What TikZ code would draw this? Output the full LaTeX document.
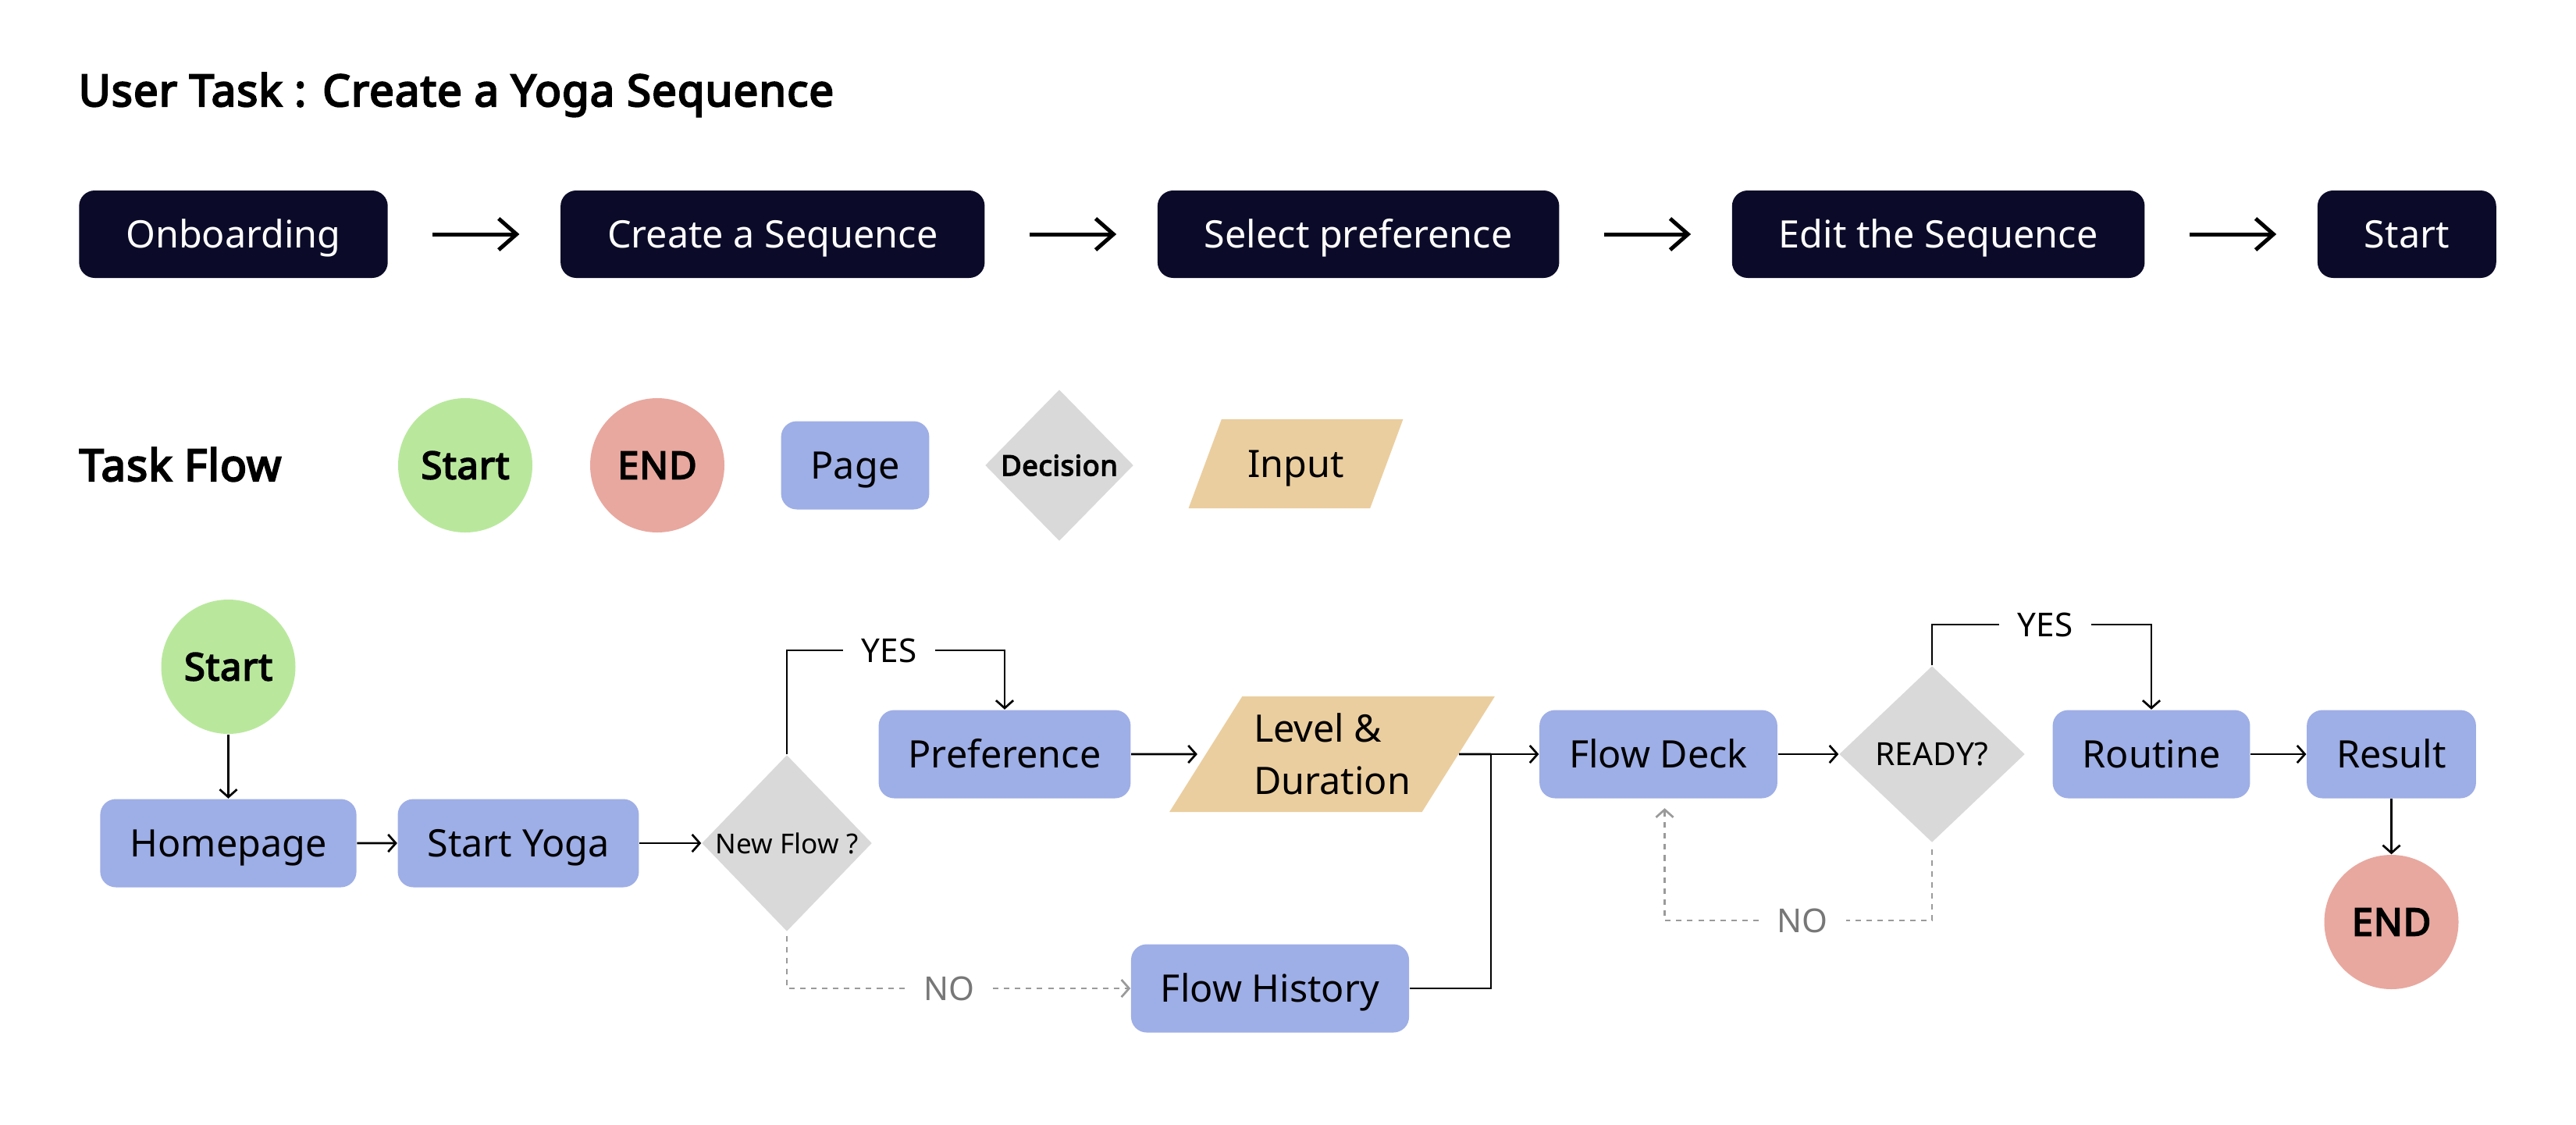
\documentclass[tikz,border=0pt]{standalone}
\usepackage{fontspec}
\setmainfont{Noto Sans}[BoldFont={Noto Sans}, BoldFeatures={FakeBold=4, LetterSpace=2}]
\usetikzlibrary{positioning,shapes.geometric,arrows.meta}

\definecolor{navy}{HTML}{0B0B29}
\definecolor{pageblue}{HTML}{9EAEE6}
\definecolor{startgreen}{HTML}{B9E89D}
\definecolor{endpink}{HTML}{E8A89F}
\definecolor{decgrey}{HTML}{D9D9D9}
\definecolor{inputtan}{HTML}{EBCE9F}
\definecolor{nogrey}{HTML}{777777}
\definecolor{dashgrey}{HTML}{9A9A9A}

\newcommand{\headfont}{\bfseries\fontsize{16}{19}\selectfont}
\newcommand{\boxfont}{\fontsize{13.8}{19}\selectfont}

\tikzset{
	taskbox/.style={rectangle, rounded corners=0.2cm, fill=navy, text=white,
		minimum height=1.12cm, inner xsep=0.6cm, text height=10pt, text depth=0pt, font=\boxfont},
	pagebox/.style={rectangle, rounded corners=0.2cm, fill=pageblue,
		minimum height=1.13cm, inner xsep=0.38cm, text height=10pt, text depth=0pt, font=\boxfont},
	startnode/.style={circle, fill=startgreen, minimum size=1.72cm, inner sep=0,
		font=\bfseries\boxfont},
	stopnode/.style={circle, fill=endpink, minimum size=1.72cm, inner sep=0,
		font=\bfseries\boxfont},
	decisionbox/.style={diamond, fill=decgrey, inner sep=0},
	inputbox/.style={trapezium, trapezium left angle=52, trapezium right angle=128,
		trapezium stretches=true, fill=inputtan, inner sep=0, font=\boxfont},
	branch/.style={inner xsep=0.23cm, inner ysep=0, font=\fontsize{12}{14}\selectfont},
	taskarrow/.style={-{Straight Barb[length=6.5pt,width=11.4pt]}, line width=1.42pt,
		shorten <=0.57cm, shorten >=0.52cm},
	flow/.style={-{Straight Barb[length=2.8pt,width=6.3pt]}, line width=0.77pt},
	noline/.style={dashgrey, line width=0.77pt, dash pattern=on 2pt off 2pt}
}

\begin{document}
\begin{tikzpicture}
	\useasboundingbox (0,0) rectangle (33,-14.4);

	% user task
	\node(title) [anchor=base west, inner sep=0, font=\headfont] at (1.0,-1.36) {User Task : Create a Yoga Sequence};
	\node(onboard) [taskbox] at (2.99,-3.0) {Onboarding};
	\node(createseq) [taskbox, right=2.2cm of onboard] {Create a Sequence};
	\node(selpref) [taskbox, right=2.2cm of createseq] {Select preference};
	\node(editseq) [taskbox, right=2.2cm of selpref] {Edit the Sequence};
	\node(gostart) [taskbox, right=2.2cm of editseq] {Start};

	\draw[taskarrow] (onboard) -- (createseq);
	\draw[taskarrow] (createseq) -- (selpref);
	\draw[taskarrow] (selpref) -- (editseq);
	\draw[taskarrow] (editseq) -- (gostart);

	% legend
	\node(flowtitle) [anchor=base west, inner sep=0, font=\headfont] at (1.01,-6.16) {Task Flow};
	\node(keystart) [startnode] at (5.96,-5.96) {Start};
	\node(keyend) [stopnode] at (8.42,-5.96) {END};
	\node(keypage) [pagebox] at (10.955,-5.96) {Page};
	\node(keydec) [decisionbox, minimum width=1.9cm, minimum height=1.94cm,
		font=\bfseries\fontsize{10.3}{12}\selectfont] at (13.57,-5.96) {Decision};
	\node(keyinput) [inputbox, minimum width=2.76cm, minimum height=1.14cm,
		text height=10pt, text depth=0pt] at (16.60,-5.94) {Input};

	% flow
	\node(start) [startnode] at (2.925,-8.54) {Start};
	\node(home) [pagebox, below of=start, node distance=2.26cm] {Homepage};
	\node(yoga) [pagebox] at (6.64,-10.80) {Start Yoga};
	\node(newflow) [decisionbox, minimum width=2.18cm, minimum height=2.26cm,
		font=\fontsize{10}{12}\selectfont] at (10.08,-10.80) {New Flow ?};
	\node(pref) [pagebox] at (12.87,-9.66) {Preference};
	\node(levdur) [inputbox, minimum width=4.17cm, minimum height=1.48cm, align=left] at (17.065,-9.66) {Level \&\\Duration};
	\node(history) [pagebox] at (16.27,-12.66) {Flow History};
	\node(deck) [pagebox] at (21.245,-9.66) {Flow Deck};
	\node(ready) [decisionbox, minimum width=2.38cm, minimum height=2.26cm,
		font=\fontsize{11.6}{14}\selectfont] at (24.75,-9.66) {READY?};
	\node(routine) [pagebox] at (27.56,-9.66) {Routine};
	\node(result) [pagebox] at (30.635,-9.66) {Result};
	\node(finish) [stopnode, below of=result, node distance=2.15cm] {END};

	\node(yesone) [branch] at (11.39,-8.33) {YES};
	\node(noone) [branch, text=nogrey] at (12.16,-12.66) {NO};
	\node(yestwo) [branch] at (26.20,-8.00) {YES};
	\node(notwo) [branch, text=nogrey] at (23.09,-11.79) {NO};
	\coordinate(join) at (19.10,-9.66);

	\draw[flow] (start) -- (home);
	\draw[flow] (home) -- (yoga);
	\draw[flow] (yoga) -- (newflow);
	\draw[line width=0.77pt] (newflow.north) |- (yesone);
	\draw[flow] (yesone) -| (pref.north);
	\draw[noline, shorten <=0.05cm] (newflow.south) |- (noone);
	\draw[noline, -{Straight Barb[length=2.8pt,width=6.3pt]}] (noone) -- (history);
	\draw[flow, shorten >=0.1cm] (pref) -- (levdur);
	\draw[line width=0.77pt] (levdur) -- (join);
	\draw[line width=0.77pt] (history) -| (join);
	\draw[flow] (join) -- (deck);
	\draw[flow] (deck) -- (ready);
	\draw[line width=0.77pt] (ready.north) |- (yestwo);
	\draw[flow] (yestwo) -| (routine.north);
	\draw[noline, shorten <=0.08cm] (ready.south) |- (notwo);
	\draw[noline, -{Straight Barb[length=2.8pt,width=6.3pt]}, shorten >=0.12cm] (notwo) -| ([xshift=0.08cm]deck.south);
	\draw[flow] (routine) -- (result);
	\draw[flow] (result) -- (finish);
\end{tikzpicture}
\end{document}
